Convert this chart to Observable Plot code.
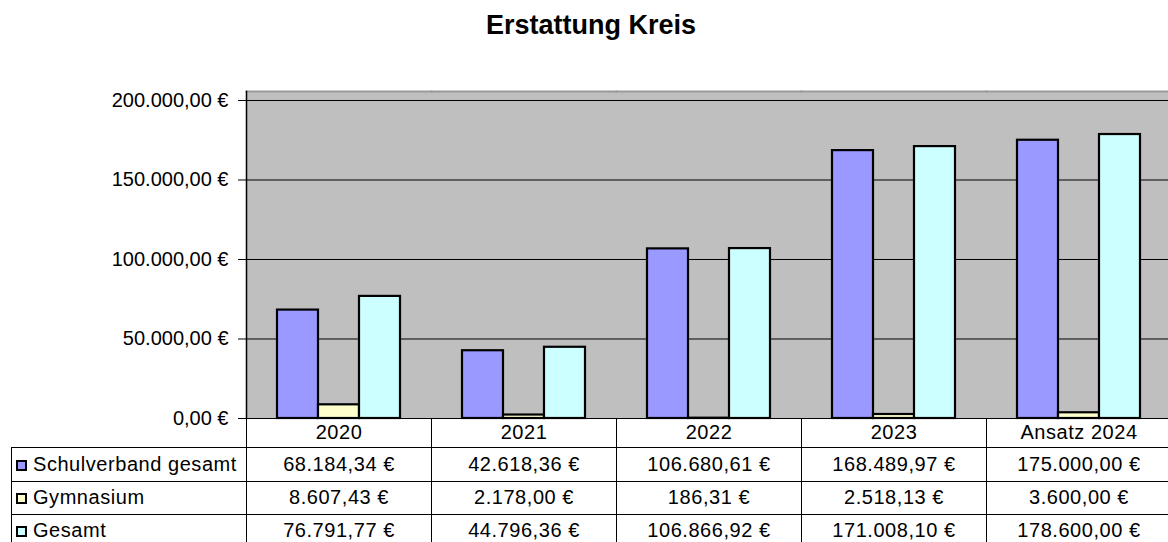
<!DOCTYPE html>
<html>
<head>
<meta charset="utf-8">
<script src="https://cdn.jsdelivr.net/npm/d3@7"></script>
<script src="https://cdn.jsdelivr.net/npm/@observablehq/plot@0.6"></script>
<style>
  html, body { margin: 0; padding: 0; background: #fff; overflow: hidden; }
  #wrap { position: relative; width: 1168px; height: 542px; overflow: hidden; font-family: "Liberation Sans", Arial, sans-serif; }
  #title { box-sizing: border-box; height: 60px; padding-top: 12px; padding-left: 14px; text-align: center; font-weight: bold; font-size: 27px; line-height: 27px; color: #000; }
  #chart svg { display: block; }
  #tbl { border-collapse: collapse; table-layout: fixed; width: 1160px; min-width: 1160px; margin-left: 11px; margin-top: -32px; font-size: 20px; letter-spacing: 0.55px; color: #000; position: relative; }
  #tbl td { border: 1px solid #000; padding: 0; text-align: center; white-space: nowrap; overflow: hidden; }
  #tbl tr.head td { border-top: none; }
  #tbl tr.head td.blank { border: none; }
  #tbl td.lab { text-align: left; padding-left: 4px; }
  .key { display: inline-block; box-sizing: border-box; width: 11px; height: 11px; border: 2px solid #000; margin-right: 6px; vertical-align: 0px; }
</style>
</head>
<body>
<div id="wrap">
  <div id="title">Erstattung Kreis</div>
  <div id="chart"></div>
  <table id="tbl"></table>
</div>
<script>
// ---- data ----
const years = ["2020", "2021", "2022", "2023", "Ansatz 2024"];
const seriesNames = ["Schulverband gesamt", "Gymnasium", "Gesamt"];
const schulverband = [68184.34, 42618.36, 106680.61, 168489.97, 175000.00];
const gymnasium = [8607.43, 2178.00, 186.31, 2518.13, 3600.00];
const gesamt = [76791.77, 44796.36, 106866.92, 171008.10, 178600.00];
const seriesColors = ["#9999ff", "#ffffcc", "#ccffff"];
const yTicks = [0, 50000, 100000, 150000, 200000];
const yMax = 205660;

const seriesValues = [schulverband, gymnasium, gesamt];
const fmt = d3.formatLocale({decimal: ",", thousands: ".", grouping: [3], currency: ["", " €"]}).format("$,.2f");

const bars = years.flatMap((year, i) =>
  seriesNames.map((s, j) => ({year, series: s, value: seriesValues[j][i]})));

const chart = Plot.plot({
  width: 1168,
  height: 390,
  marginTop: 31,
  marginBottom: 32,
  marginLeft: 246,
  marginRight: -3,
  style: {fontFamily: "'Liberation Sans', Arial, sans-serif", fontSize: "20px", color: "#000", background: "transparent", overflow: "visible"},
  fx: {domain: years, padding: 0, axis: null},
  x: {domain: seriesNames, paddingInner: 0, paddingOuter: 0.756, axis: null},
  y: {domain: [0, yMax]},
  color: {domain: seriesNames, range: seriesColors},
  marks: [
    Plot.frame({fill: "#bfbfbf", insetRight: -1, shapeRendering: "crispEdges"}),
    Plot.frame({anchor: "top", stroke: "#9a9a9a", strokeWidth: 2}),
    Plot.gridY({ticks: yTicks, stroke: "#000", strokeOpacity: 1, strokeWidth: 1}),
    Plot.barY(bars, {fx: "year", x: "series", y: "value", fill: "series", stroke: "#000", strokeWidth: 2.2}),
    Plot.frame({anchor: "left", facetAnchor: "left", stroke: "#000", strokeWidth: 1.5}),
    Plot.axisY({ticks: yTicks, tickFormat: fmt, tickSize: 8, tickPadding: 10, fontSize: 20, label: null, stroke: "#000", fill: "#000", style: {letterSpacing: "0.75px"}})
  ]
});
document.getElementById("chart").appendChild(chart);

// ---- data table ----
const tbl = document.getElementById("tbl");
const cg = document.createElement("colgroup");
[235, 185, 185, 185, 185, 185].forEach(w => {
  const c = document.createElement("col"); c.style.width = w + "px"; cg.appendChild(c);
});
tbl.appendChild(cg);
const rowHeights = [29, 34, 33, 33];
const head = document.createElement("tr");
head.className = "head";
head.style.height = rowHeights[0] + "px";
const blank = document.createElement("td"); blank.className = "blank"; head.appendChild(blank);
years.forEach(y => { const td = document.createElement("td"); td.textContent = y; head.appendChild(td); });
tbl.appendChild(head);
seriesNames.forEach((s, j) => {
  const tr = document.createElement("tr");
  tr.style.height = rowHeights[j + 1] + "px";
  const lab = document.createElement("td");
  lab.className = "lab";
  const key = document.createElement("span");
  key.className = "key";
  key.style.background = seriesColors[j];
  lab.appendChild(key);
  lab.appendChild(document.createTextNode(s));
  tr.appendChild(lab);
  seriesValues[j].forEach(v => { const td = document.createElement("td"); td.textContent = fmt(v); tr.appendChild(td); });
  tbl.appendChild(tr);
});
</script>
</body>
</html>
